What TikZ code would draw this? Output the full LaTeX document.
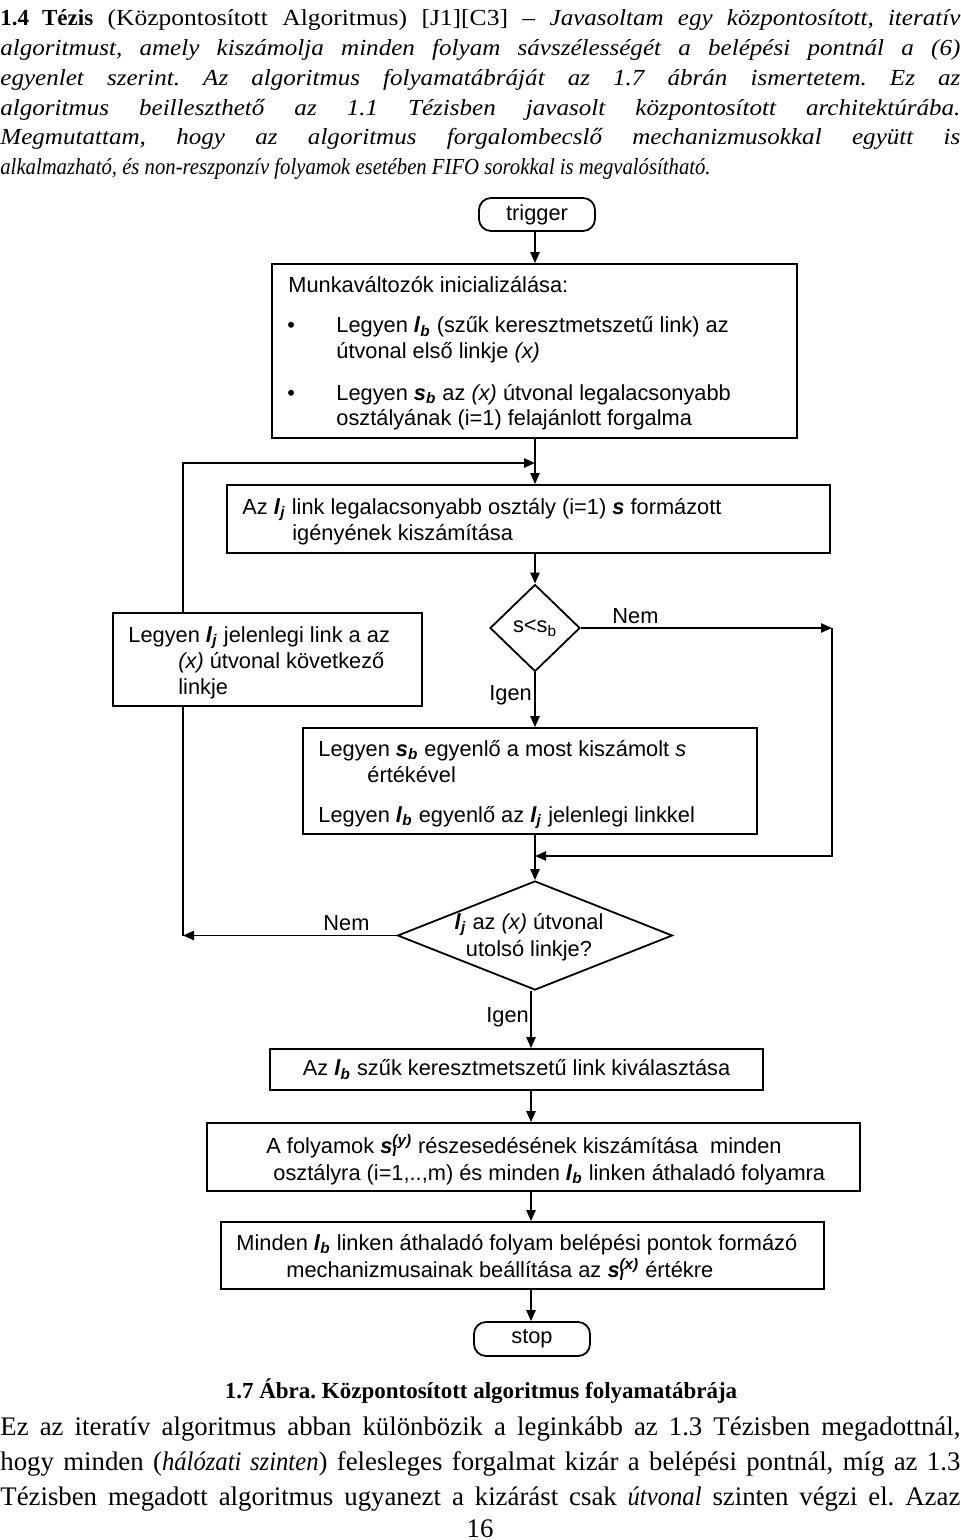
\documentclass[tikz,border=0pt]{standalone}
\usepackage{fontspec}
\setmainfont{Liberation Serif}[UprightFeatures={FakeStretch=1.11}, ItalicFeatures={FakeStretch=1.09}, BoldFeatures={FakeStretch=1.0}]
\newfontfamily\lastfont{Liberation Serif}[ItalicFeatures={FakeStretch=0.9}]
\newfontfamily\botfont{Liberation Serif}[ItalicFeatures={FakeStretch=0.92}]
\newfontfamily\flowfont{Liberation Sans}
\usetikzlibrary{arrows.meta,shapes.geometric,fit}
\frenchspacing
\newcommand\bi[1]{\textbf{\textit{#1}}}
\newcommand\vsub[2]{\bi{#1}\textsubscript{\bi{#2}}}
\newcommand\ssup[1]{\bi{s}\rlap{\textsubscript{\bi{i}}}\textsuperscript{\bi{#1}}}
\begin{document}
\begin{tikzpicture}[x=0.5pt,y=-0.5pt,
  flow/.style={font=\flowfont\fontsize{10.9}{13.3}\selectfont},
  box/.style={draw, line width=0.9pt, inner sep=0pt},
  term/.style={box, rounded corners=6pt},
  dia/.style={draw, line width=0.9pt, diamond, inner sep=0pt},
  ln/.style={line width=0.9pt},
  arr/.style={ln, -{Triangle[length=5.5pt,width=4.6pt]}},
  txt/.style={flow, anchor=base west, inner sep=0pt},
  ctxt/.style={flow, inner sep=0pt},
  ptxt/.style={anchor=base west, inner sep=0pt, font=\fontsize{11.5}{14}\selectfont},
  btxt/.style={anchor=base west, inner sep=0pt, font=\botfont\fontsize{13.4}{16}\selectfont},
]
\useasboundingbox (0,0) rectangle (960,1540);

% ---------- top paragraph ----------
\node[ptxt] (p1) at (0,26) {\makebox[480pt][s]{\textbf{1.4 Tézis} (Központosított Algoritmus) [J1][C3] – \textit{Javasoltam egy központosított, iteratív}}};
\node[ptxt] (p2) at (0,56) {\makebox[480pt][s]{\textit{algoritmust, amely kiszámolja minden folyam sávszélességét a belépési pontnál a (6)}}};
\node[ptxt] (p3) at (0,86) {\makebox[480pt][s]{\textit{egyenlet szerint. Az algoritmus folyamatábráját az 1.7 ábrán ismertetem. Ez az}}};
\node[ptxt] (p4) at (0,116) {\makebox[480pt][s]{\textit{algoritmus beilleszthető az 1.1 Tézisben javasolt központosított architektúrába.}}};
\node[ptxt] (p5) at (0,145) {\makebox[480pt][s]{\textit{Megmutattam, hogy az algoritmus forgalombecslő mechanizmusokkal együtt is}}};
\node[ptxt] (p6) at (0,175) {\lastfont\itshape alkalmazható, és non-reszponzív folyamok esetében FIFO sorokkal is megvalósítható.};

% ---------- boxes ----------
\node[term, fit={(479,198) (595,231)}] (trig) {};
\node[ctxt] (trigt) at (trig.center) {trigger};

\node[box, fit={(272,264) (797,438)}] (init) {};
\node[txt] (i1) at (288,293) {Munkaváltozók inicializálása:};
\node[txt] (i2) at (287,333) {•};
\node[txt] (i3) at (336,333) {Legyen \vsub{l}{b} (szűk keresztmetszetű link) az};
\node[txt] (i4) at (336,358) {útvonal első linkje \textit{(x)}};
\node[txt] (i5) at (287,400) {•};
\node[txt] (i6) at (336,400) {Legyen \vsub{s}{b} az \textit{(x)} útvonal legalacsonyabb};
\node[txt] (i7) at (336,425) {osztályának (i=1) felajánlott forgalma};

\node[box, fit={(227,485) (830,553)}] (b2) {};
\node[txt] (b2a) at (242,514) {Az \vsub{l}{j} link legalacsonyabb osztály (i=1) \bi{s} formázott};
\node[txt] (b2b) at (292,540) {igényének kiszámítása};

\node[dia, flow, minimum width=45pt, minimum height=43.5pt] (d1) at (535,628) {s<s\textsubscript{b}};

\node[box, fit={(113,613) (422,706)}] (lj) {};
\node[txt] (lja) at (128,642) {Legyen \vsub{l}{j} jelenlegi link a az};
\node[txt] (ljb) at (178,668) {\textit{(x)} útvonal következő};
\node[txt] (ljc) at (178,694) {linkje};

\node[box, fit={(303,728) (757,834)}] (b3) {};
\node[txt] (b3a) at (318,756) {Legyen \vsub{s}{b} egyenlő a most kiszámolt \textit{s}};
\node[txt] (b3b) at (367,782) {értékével};
\node[txt] (b3c) at (318,822) {Legyen \vsub{l}{b} egyenlő az \vsub{l}{j} jelenlegi linkkel};

\node[dia, minimum width=137.5pt, minimum height=54.5pt] (d2) at (535,935.5) {};
\node[ctxt, align=center] (d2t) at (529,937) {\vsub{l}{j} az \textit{(x)} útvonal\\utolsó linkje?};

\node[box, fit={(270,1049) (763,1090)}] (b4) {};
\node[ctxt] (b4t) at (b4.center) {Az \vsub{l}{b} szűk keresztmetszetű link kiválasztása};

\node[box, fit={(207,1123) (860,1191)}] (b5) {};
\node[txt] (b5a) at (266,1153) {A folyamok \ssup{(y)} részesedésének kiszámítása\ \ minden};
\node[txt] (b5b) at (273,1180) {osztályra (i=1,..,m) és minden \vsub{l}{b} linken áthaladó folyamra};

\node[box, fit={(221,1222) (824,1289)}] (b6) {};
\node[txt] (b6a) at (236,1250) {Minden \vsub{l}{b} linken áthaladó folyam belépési pontok formázó};
\node[txt] (b6b) at (286,1277) {mechanizmusainak beállítása az \ssup{(x)} értékre};

\node[term, fit={(474,1322) (590,1356)}] (stop) {};
\node[ctxt] (stopt) at (stop.center) {stop};

% ---------- labels ----------
\node[txt] (nem1) at (612,623) {Nem};
\node[txt] (igen1) at (489,700) {Igen};
\node[txt] (nem2) at (323,930) {Nem};
\node[txt] (igen2) at (486,1022) {Igen};

% ---------- helper coordinates ----------
\coordinate (col) at (535,0);
\coordinate (col2) at (531,0);
\coordinate (lx) at (183,0);
\coordinate (rx) at (832,0);
\coordinate (m1) at (535,463);
\coordinate (m2) at (535,856);

% ---------- connectors ----------
\draw[arr] (trig.south -| col) -- (init.north -| col);
\draw[arr] (init.south -| col) -- (b2.north -| col);
\draw[arr] (lx |- lj.north) -- (lx |- m1) -- (m1);
\draw[arr] (b2.south -| col) -- (d1.north);
\draw[arr] (d1.south) -- (b3.north -| d1.south);
\draw[arr] (d1.east) -- (rx |- d1.east);
\draw[arr] (rx |- d1.east) -- (rx |- m2) -- (m2);
\draw[arr] (b3.south -| col) -- (d2.north);
\draw[arr] (d2.west) -- (lx |- d2.west);
\draw[ln] (lx |- d2.west) -- (lx |- lj.south);
\draw[arr] (d2.south -| col2) -- (b4.north -| col2);
\draw[arr] (b4.south -| col2) -- (b5.north -| col2);
\draw[arr] (b5.south -| col2) -- (b6.north -| col2);
\draw[arr] (b6.south -| col2) -- (stop.north -| col2);

% ---------- bottom text ----------
\node[anchor=base, inner sep=0pt, font=\bfseries\fontsize{11.5}{14}\selectfont] (cap) at (481,1398) {1.7 Ábra. Központosított algoritmus folyamatábrája};
\node[btxt] (q1) at (0,1435) {\makebox[480pt][s]{Ez az iteratív algoritmus abban különbözik a leginkább az 1.3 Tézisben megadottnál,}};
\node[btxt] (q2) at (0,1470) {\makebox[480pt][s]{hogy minden (\textit{hálózati szinten}) felesleges forgalmat kizár a belépési pontnál, míg az 1.3}};
\node[btxt] (q3) at (0,1505) {\makebox[480pt][s]{Tézisben megadott algoritmus ugyanezt a kizárást csak \textit{útvonal} szinten végzi el. Azaz}};
\node[anchor=base, inner sep=0pt, font=\botfont\fontsize{13.4}{16}\selectfont] (pg) at (480,1537) {16};
\end{tikzpicture}
\end{document}
